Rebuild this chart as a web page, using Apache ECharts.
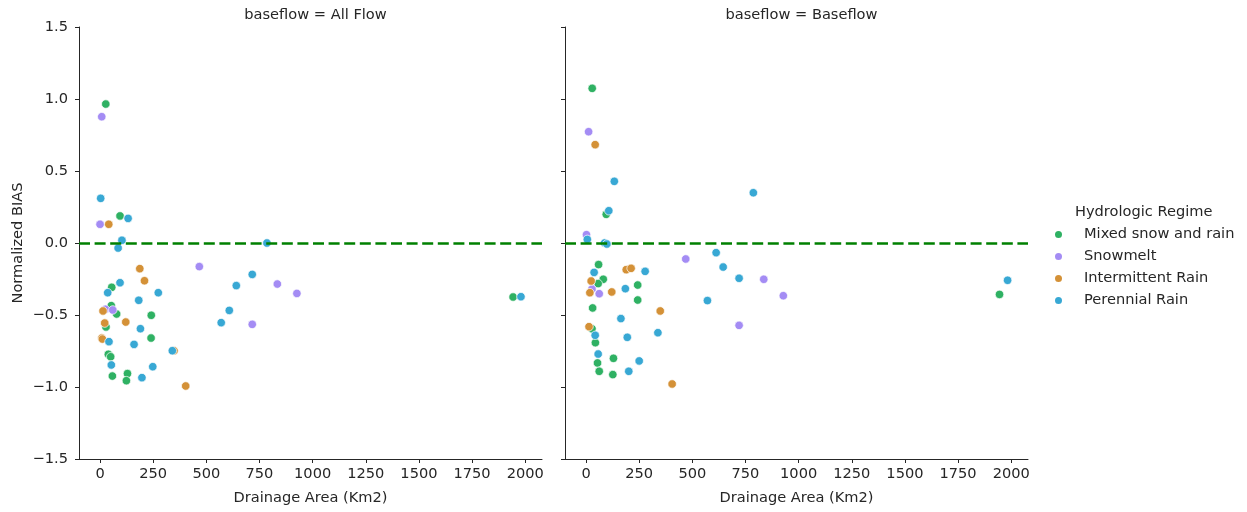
<!DOCTYPE html>
<html>
<head>
<meta charset="utf-8">
<script src="https://cdn.jsdelivr.net/npm/echarts@6/dist/echarts.min.js"></script>
<style>html,body{margin:0;padding:0;background:#fff;}#c{width:1247px;height:512px;}</style>
</head>
<body>
<div id="c"></div>
<script>
// ---- data: [drainage area (Km2), normalized bias] ----
const regimes = ['Mixed snow and rain', 'Snowmelt', 'Intermittent Rain', 'Perennial Rain'];
const panelTitles = ['baseflow = All Flow', 'baseflow = Baseflow'];
const xTicks = [0, 250, 500, 750, 1000, 1250, 1500, 1750, 2000];
const yTicks = [-1.5, -1.0, -0.5, 0.0, 0.5, 1.0, 1.5];

const allMixed = [[27,0.965],[94,0.188],[55,-0.308],[53,-0.435],[78,-0.493],[241,-0.502],[28,-0.583],[240,-0.66],[39,-0.773],[50,-0.79],[129,-0.907],[58,-0.924],[124,-0.956],[1943,-0.375]];
const allSnow = [[8,0.877],[0,0.13],[467,-0.164],[834,-0.285],[25,-0.46],[60,-0.465],[716,-0.565],[926,-0.35]];
const allInter = [[41,0.13],[187,-0.178],[209,-0.262],[14,-0.472],[121,-0.549],[22,-0.556],[8,-0.66],[11,-0.667],[348,-0.748],[403,-0.993]];
const allPeren = [[3,0.31],[132,0.171],[103,0.019],[85,-0.035],[785,0.0],[716,-0.218],[641,-0.296],[94,-0.276],[36,-0.345],[274,-0.345],[182,-0.398],[608,-0.468],[570,-0.553],[190,-0.595],[160,-0.704],[42,-0.685],[53,-0.847],[340,-0.748],[248,-0.859],[197,-0.935],[1980,-0.373]];

const baseMixed = [[29,1.074],[95,0.199],[59,-0.15],[81,-0.252],[57,-0.282],[243,-0.292],[243,-0.396],[31,-0.451],[28,-0.595],[44,-0.692],[129,-0.801],[54,-0.833],[62,-0.891],[126,-0.914],[1945,-0.357]];
const baseSnow = [[12,0.773],[2,0.058],[469,-0.111],[28,-0.32],[62,-0.352],[836,-0.252],[928,-0.366],[720,-0.572]];
const baseInter = [[43,0.683],[189,-0.185],[212,-0.176],[24,-0.264],[18,-0.345],[121,-0.34],[349,-0.472],[14,-0.581],[405,-0.979]];
const basePeren = [[133,0.428],[107,0.224],[6,0.025],[87,0.0],[98,-0.007],[38,-0.204],[278,-0.197],[185,-0.317],[571,-0.4],[164,-0.525],[43,-0.641],[194,-0.655],[338,-0.623],[57,-0.771],[250,-0.819],[201,-0.891],[787,0.349],[612,-0.067],[645,-0.167],[720,-0.245],[1983,-0.259]];

const colors = ['#2fb163', '#a48cf4', '#d49137', '#38a8d4'];
const FONT = 'DejaVu Sans';
const TXT = '#262626';
const FS = 14.6;

const panels = [[allMixed, allSnow, allInter, allPeren], [baseMixed, baseSnow, baseInter, basePeren]];
const gridLefts = [79, 565];

const chart = echarts.init(document.getElementById('c'));

const grids = gridLefts.map(l => ({left: l, top: 27, width: 463, height: 432}));
const xAxes = gridLefts.map((l, i) => ({
  type: 'value', gridIndex: i, min: -99, max: 2079,
  name: 'Drainage Area (Km2)', nameLocation: 'middle', nameGap: 32,
  nameTextStyle: {fontFamily: FONT, fontSize: FS, color: TXT},
  axisLine: {show: true, onZero: false, lineStyle: {color: TXT, width: 1}},
  axisTick: {show: true, length: 4, customValues: xTicks, lineStyle: {color: TXT}},
  axisLabel: {customValues: xTicks, margin: 8, fontFamily: FONT, fontSize: FS, color: TXT,
    formatter: v => String(v)},
  splitLine: {show: false}
}));
const yAxes = gridLefts.map((l, i) => ({
  type: 'value', gridIndex: i, min: -1.5, max: 1.5, interval: 0.5,
  name: i === 0 ? 'Normalized BIAS' : '', nameLocation: 'middle', nameGap: 53,
  nameTextStyle: {fontFamily: FONT, fontSize: FS, color: TXT},
  axisLine: {show: true, onZero: false, lineStyle: {color: TXT, width: 1}},
  axisTick: {show: true, length: 4, lineStyle: {color: TXT}},
  axisLabel: {show: i === 0, margin: 11, fontFamily: FONT, fontSize: FS, color: TXT,
    formatter: v => (v < 0 ? '\u2212' : '') + Math.abs(v).toFixed(1)},
  splitLine: {show: false}
}));

const series = [];
panels.forEach((sets, p) => {
  sets.forEach((d, k) => {
    series.push({
      type: 'scatter', name: regimes[k], xAxisIndex: p, yAxisIndex: p,
      data: d, symbol: 'circle', symbolSize: 8.5,
      itemStyle: {color: colors[k], borderColor: '#fff', borderWidth: 0.7, opacity: 1},
      emphasis: {disabled: true}, z: 3
    });
  });
  series.push({
    type: 'line', xAxisIndex: p, yAxisIndex: p, data: [], silent: true, z: 2,
    markLine: {
      silent: true, symbol: 'none', animation: false,
      label: {show: false},
      lineStyle: {color: '#008000', width: 2.5, type: [11, 4.6]},
      data: [{yAxis: 0}]
    }
  });
});

chart.setOption({
  animation: false,
  backgroundColor: '#fff',
  title: panelTitles.map((t, i) => ({
    text: t, left: gridLefts[i] + 231.5, top: 3, textAlign: 'center',
    textStyle: {fontFamily: FONT, fontSize: FS, fontWeight: 'normal', color: TXT}
  })).concat([{
    text: 'Hydrologic Regime', left: 1070, top: 200,
    textStyle: {fontFamily: FONT, fontSize: FS, fontWeight: 'normal', color: TXT}
  }]),
  legend: {
    data: regimes, orient: 'vertical', left: 1048, top: 222,
    icon: 'circle', itemWidth: 9, itemHeight: 9, itemGap: 7,
    textStyle: {fontFamily: FONT, fontSize: FS, color: TXT, lineHeight: 14, padding: [0, 0, 0, 16]},
    selectedMode: false
  },
  grid: grids,
  xAxis: xAxes,
  yAxis: yAxes,
  series: series
});
</script>
</body>
</html>
